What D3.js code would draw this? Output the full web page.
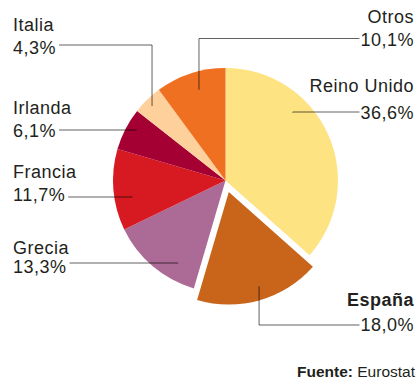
<!DOCTYPE html>
<html>
<head>
<meta charset="utf-8">
<script src="https://cdn.jsdelivr.net/npm/d3@7"></script>
<style>
  html, body { margin: 0; padding: 0; background: #fff; }
  svg { display: block; }
  .lbl { font-family: "Liberation Sans", Arial, sans-serif; font-size: 18px; letter-spacing: 0.5px; fill: #231f20; }
  .src { font-family: "Liberation Sans", Arial, sans-serif; font-size: 15.5px; fill: #231f20; }
</style>
</head>
<body>
<svg id="chart" width="418" height="383"></svg>
<script>
// Países y cuota (%) en el sentido de las agujas del reloj desde las 12
const countries = ["Reino Unido", "España", "Grecia", "Francia", "Irlanda", "Italia", "Otros"];
const shares = [36.6, 18.0, 13.3, 11.7, 6.1, 4.3, 10.1];
const sliceColors = ["#fee383", "#c9651a", "#ab6b96", "#d71921", "#a50034", "#fdd09c", "#f07022"];
const highlighted = ["España"];

// Colocación de las etiquetas: lado, líneas base (nombre / valor), altura de la línea guía,
// punto de anclaje dentro de la porción (ángulo en grados, fracción del radio)
const labelSide   = ["right", "right", "left", "left", "left", "left", "right"];
const nameBase    = [92, 306, 254, 178, 114, 31, 23];
const valueBase   = [119, 331, 273, 201, 137, 54, 46];
const lineY       = [112, 325, 263, 197, 130, 45, 38.5];
const anchorAngle = [44.6, 162.2, 209.9, 260, 299.7, 315.4, 343.7];
const anchorRad   = [0.85, 0.88, 0.85, 0.84, 0.91, 0.93, 0.84];

const fmt = v => d3.format(".1f")(v).replace(".", ",") + "%";

const svg = d3.select("#chart");
const cx = 225.5, cy = 180.5, R = 112.5, explode = 12;
const leftX = 13, rightX = 414;

const data = countries.map((c, i) => ({
  name: c, value: shares[i], color: sliceColors[i], side: labelSide[i],
  nb: nameBase[i], vb: valueBase[i], ly: lineY[i], aa: anchorAngle[i], ar: anchorRad[i],
  hi: highlighted.includes(c)
}));

const pie = d3.pie().sort(null).value(d => d.value);
const arc = d3.arc().innerRadius(0).outerRadius(R);
const arcs = pie(data);

const g = svg.append("g").attr("transform", `translate(${cx},${cy})`);

function offsetOf(a) {
  if (!a.data.hi) return [0, 0];
  const m = (a.startAngle + a.endAngle) / 2;
  return [Math.sin(m) * explode, -Math.cos(m) * explode];
}

g.selectAll("path.slice")
  .data(arcs)
  .join("path")
  .attr("class", "slice")
  .attr("d", arc)
  .attr("fill", a => a.data.color)
  .attr("transform", a => { const o = offsetOf(a); return `translate(${o[0]},${o[1]})`; });

// Etiquetas con líneas guía
const labels = svg.append("g");
arcs.forEach(a => {
  const d = a.data;
  const o = offsetOf(a);
  const ang = d.aa * Math.PI / 180;
  const ax = cx + o[0] + Math.sin(ang) * R * d.ar;
  const ay = cy + o[1] - Math.cos(ang) * R * d.ar;
  const isLeft = d.side === "left";
  const tx = isLeft ? leftX : rightX;
  const anchor = isLeft ? "start" : "end";

  labels.append("text").attr("class", "lbl")
    .attr("x", tx).attr("y", d.nb)
    .attr("text-anchor", anchor)
    .style("font-weight", d.hi ? "bold" : null)
    .text(d.name);

  const valText = labels.append("text").attr("class", "lbl")
    .attr("x", tx).attr("y", d.vb)
    .attr("text-anchor", anchor)
    .text(fmt(d.value));

  const w = valText.node().getComputedTextLength();
  const endX = isLeft ? tx + w + 3 : tx - w - 1;

  const pts = [[ax, ay], [ax, d.ly], [endX, d.ly]];
  labels.append("path")
    .attr("d", d3.line()(pts))
    .attr("fill", "none")
    .attr("stroke", "#000")
    .attr("stroke-opacity", 0.62)
    .attr("stroke-width", 1);
});

// Fuente
const src = svg.append("text").attr("class", "src")
  .attr("x", rightX + 1).attr("y", 377).attr("text-anchor", "end");
src.append("tspan").style("font-weight", "bold").text("Fuente:");
src.append("tspan").text(" Eurostat");
</script>
</body>
</html>
